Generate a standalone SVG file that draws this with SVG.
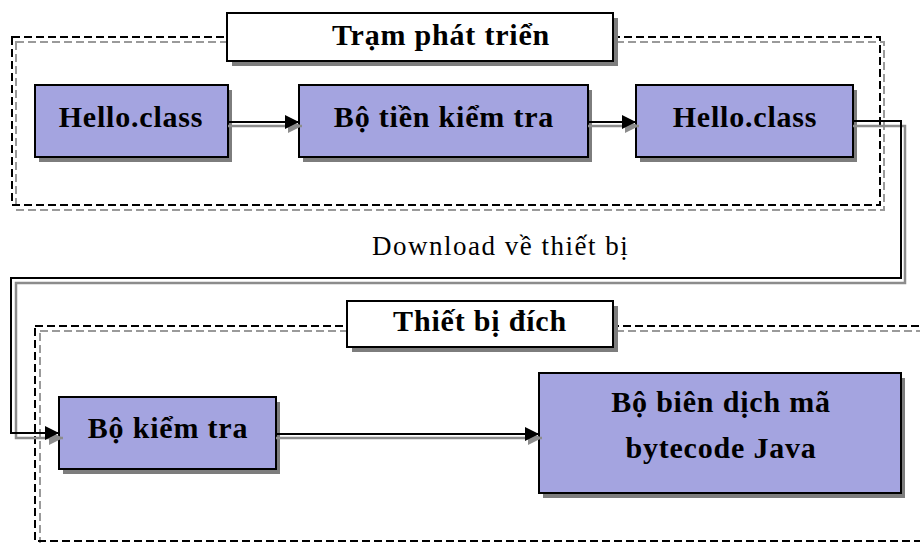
<svg xmlns="http://www.w3.org/2000/svg" width="920" height="543" viewBox="0 0 920 543">
  <style>
    .frame { fill: none; stroke: #000; stroke-width: 2; stroke-dasharray: 8 4; }
    .frame-shadow { fill: none; stroke: #9a9a9a; stroke-width: 2; stroke-dasharray: 8 4; }
    .shadow { fill: #7d7d7d; }
    .node { fill: #a4a4e0; stroke: #000; stroke-width: 2; }
    .title { fill: #fff; stroke: #000; stroke-width: 2; }
    .label { font-family: "Liberation Serif", "Times New Roman", serif; font-weight: bold; font-size: 30px; letter-spacing: 0.8px; fill: #000; text-anchor: middle; }
    .note { font-family: "Liberation Serif", "Times New Roman", serif; font-size: 27px; letter-spacing: 1.5px; fill: #000; }
    .wire { fill: none; stroke: #000; stroke-width: 2; }
    .wire-shadow { fill: none; stroke: #8c8c8c; stroke-width: 2.5; }
  </style>
  <defs>
    <marker id="head" markerUnits="userSpaceOnUse" markerWidth="14" markerHeight="14" refX="14" refY="7" orient="auto">
      <path d="M0,0 L14,7 L0,14 z" fill="#000"/>
    </marker>
    <marker id="head-shadow" markerUnits="userSpaceOnUse" markerWidth="14" markerHeight="14" refX="14" refY="7" orient="auto">
      <path d="M0,0 L14,7 L0,14 z" fill="#8c8c8c"/>
    </marker>
  </defs>

  <rect width="920" height="543" fill="#fff"/>

  <!-- development station frame -->
  <g id="dev-station">
    <rect class="frame-shadow" x="16" y="42" width="868" height="168"/>
    <rect class="frame" x="12" y="37" width="868" height="168"/>
    <rect class="shadow" x="232" y="18" width="386" height="48"/>
    <rect class="title" x="227" y="13" width="386" height="48"/>
    <text class="label" x="441" y="45">Trạm phát triển</text>
  </g>

  <!-- target device frame -->
  <g id="target-device">
    <rect class="frame-shadow" x="40" y="331" width="900" height="215"/>
    <rect class="frame" x="35" y="326" width="900" height="215"/>
    <rect class="shadow" x="352" y="306" width="266" height="46"/>
    <rect class="title" x="347" y="301" width="266" height="46"/>
    <text class="label" x="480" y="331">Thiết bị đích</text>
  </g>

  <g id="hello-src">
    <rect class="shadow" x="39" y="90" width="193" height="72"/>
    <rect class="node" x="35" y="85" width="193" height="72"/>
    <text class="label" x="131" y="127">Hello.class</text>
  </g>

  <g id="preverifier">
    <rect class="shadow" x="303" y="90" width="289" height="72"/>
    <rect class="node" x="299" y="85" width="289" height="72"/>
    <text class="label" x="444" y="127">Bộ tiền kiểm tra</text>
  </g>

  <g id="hello-out">
    <rect class="shadow" x="640" y="90" width="217" height="72"/>
    <rect class="node" x="636" y="85" width="217" height="72"/>
    <text class="label" x="745" y="127">Hello.class</text>
  </g>

  <g id="verifier">
    <rect class="shadow" x="63" y="402" width="217" height="72"/>
    <rect class="node" x="59" y="397" width="217" height="72"/>
    <text class="label" x="168" y="438">Bộ kiểm tra</text>
  </g>

  <g id="jit">
    <rect class="shadow" x="543" y="378" width="362" height="120"/>
    <rect class="node" x="539" y="373" width="362" height="120"/>
    <text class="label" x="721" y="412">Bộ biên dịch mã</text>
    <text class="label" x="721" y="458">bytecode Java</text>
  </g>

  <!-- connectors: each one is a black line with a grey drop copy -->
  <g id="connectors">
    <path class="wire-shadow" d="M228,126 H302" marker-end="url(#head-shadow)"/>
    <path class="wire" d="M228,122 H299" marker-end="url(#head)"/>

    <path class="wire-shadow" d="M588,126 H639" marker-end="url(#head-shadow)"/>
    <path class="wire" d="M588,122 H636" marker-end="url(#head)"/>

    <path class="wire-shadow" d="M853,126 H905 V283 H16 V438 H63" marker-end="url(#head-shadow)"/>
    <path class="wire" d="M853,121 H901 V278 H11 V433 H59" marker-end="url(#head)"/>

    <path class="wire-shadow" d="M276,438 H542" marker-end="url(#head-shadow)"/>
    <path class="wire" d="M276,434 H539" marker-end="url(#head)"/>

    <text class="note" x="372" y="255">Download về thiết bị</text>
  </g>
</svg>
